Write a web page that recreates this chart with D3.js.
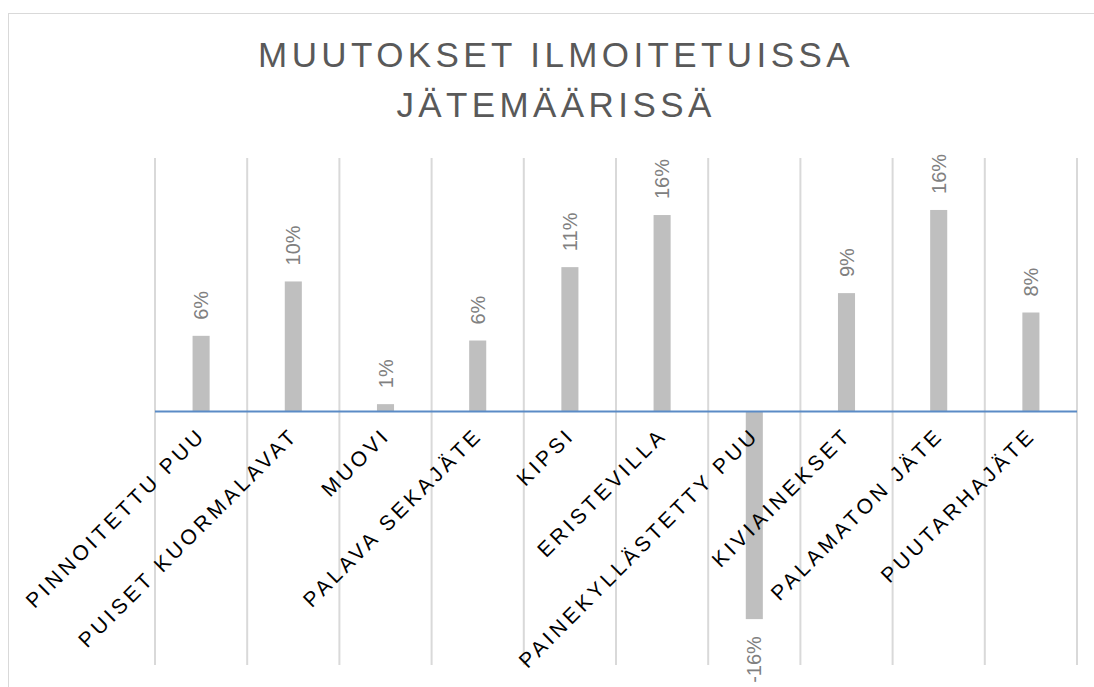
<!DOCTYPE html>
<html>
<head>
<meta charset="utf-8">
<script src="https://cdn.jsdelivr.net/npm/d3@7"></script>
<style>
  body { margin: 0; background: #fff; }
  svg { display: block; font-family: "Liberation Sans", Arial, sans-serif; }
</style>
</head>
<body>
<svg id="chart" width="1094" height="687"></svg>
<script>
// chart data
const titleLines = ['MUUTOKSET ILMOITETUISSA', 'JÄTEMÄÄRISSÄ'];
const categories = [
  'PINNOITETTU PUU', 'PUISET KUORMALAVAT', 'MUOVI', 'PALAVA SEKAJÄTE', 'KIPSI',
  'ERISTEVILLA', 'PAINEKYLLÄSTETTY PUU', 'KIVIAINEKSET', 'PALAMATON JÄTE', 'PUUTARHAJÄTE'
];
const changes = [5.97, 10.26, 0.58, 5.6, 11.39, 15.5, -16.38, 9.34, 15.9, 7.81];
const yDomain = [-20, 20];

const svg = d3.select('#chart');

// outer chart border (runs off the right and bottom of the picture)
svg.append('rect')
  .attr('x', 8.5).attr('y', 13.5)
  .attr('width', 1200).attr('height', 800)
  .attr('fill', 'none')
  .attr('stroke', '#d9d9d9');

// title
svg.append('text')
  .attr('x', 556)
  .attr('y', 67)
  .attr('text-anchor', 'middle')
  .style('font-size', '35px')
  .style('letter-spacing', '4.4px')
  .style('fill', '#595959')
  .selectAll('tspan')
  .data(titleLines)
  .join('tspan')
  .attr('x', 556)
  .attr('dy', (d, i) => i === 0 ? 0 : 50)
  .text(d => d);

const x = d3.scaleBand().domain(categories).range([155, 1077]).padding(0);
const y = d3.scaleLinear().domain(yDomain).range([665, 158]);

const barW = x.bandwidth() * 0.185;

// vertical gridlines on the category boundaries
const edges = categories.map(c => x(c)).concat([x.range()[1]]);
svg.append('g')
  .selectAll('line')
  .data(edges)
  .join('line')
  .attr('x1', d => d).attr('x2', d => d)
  .attr('y1', y(yDomain[1])).attr('y2', y(yDomain[0]))
  .attr('stroke', '#d9d9d9')
  .attr('stroke-width', 2);

// bars
svg.append('g')
  .selectAll('rect')
  .data(changes)
  .join('rect')
  .attr('x', (d, i) => x(categories[i]) + (x.bandwidth() - barW) / 2)
  .attr('y', d => y(Math.max(0, d)))
  .attr('width', barW)
  .attr('height', d => Math.abs(y(d) - y(0)))
  .attr('fill', '#bfbfbf');

// zero line
svg.append('line')
  .attr('x1', x.range()[0]).attr('x2', x.range()[1])
  .attr('y1', y(0)).attr('y2', y(0))
  .attr('stroke', '#5b8bc6')
  .attr('stroke-width', 2);

// value labels, rotated
svg.append('g')
  .selectAll('text')
  .data(changes)
  .join('text')
  .attr('transform', (d, i) => {
    const cx = x(categories[i]) + x.bandwidth() / 2;
    const ty = d >= 0 ? y(d) - 16 : y(d) + 17;
    return `translate(${cx},${ty}) rotate(-90)`;
  })
  .attr('text-anchor', d => d >= 0 ? 'start' : 'end')
  .attr('dy', '0.35em')
  .style('font-size', '20px')
  .style('fill', '#808080')
  .text(d => Math.round(d) + '%');

// category labels at -45 degrees
svg.append('g')
  .selectAll('text')
  .data(categories)
  .join('text')
  .attr('transform', d => `translate(${x(d) + x.bandwidth() / 2 + 6},${y(0) + 25}) rotate(-45)`)
  .attr('text-anchor', 'end')
  .style('font-size', '21px')
  .style('letter-spacing', '3.6px')
  .style('fill', '#000')
  .text(d => d);
</script>
</body>
</html>
